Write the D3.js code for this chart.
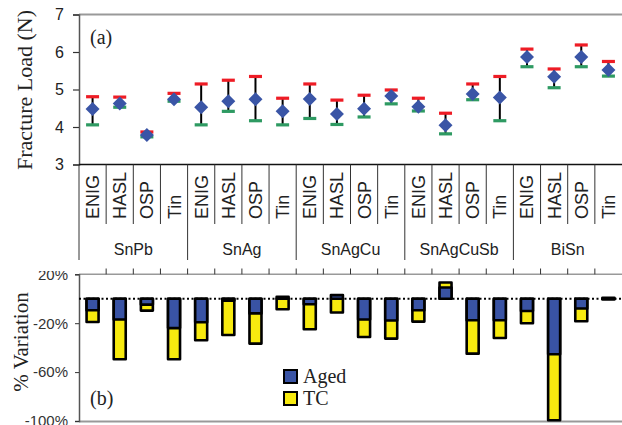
<!DOCTYPE html>
<html>
<head>
<meta charset="utf-8">
<script src="https://cdn.jsdelivr.net/npm/d3@7"></script>
<style>
  html, body { margin: 0; padding: 0; background: #fff; }
  svg { display: block; }
</style>
</head>
<body>
<svg id="chart" width="622" height="425"></svg>
<script>
// ---------- data ----------
const finishes = ["ENIG", "HASL", "OSP", "Tin"];
const solders = ["SnPb", "SnAg", "SnAgCu", "SnAgCuSb", "BiSn"];
const meanLoad = [4.48, 4.63, 3.79, 4.74, 4.53, 4.69, 4.74, 4.42, 4.75, 4.35, 4.49, 4.83, 4.54, 4.05, 4.88, 4.79, 5.87, 5.34, 5.87, 5.52];
const maxLoad  = [4.81, 4.80, 3.87, 4.90, 5.15, 5.25, 5.35, 4.77, 5.15, 4.72, 4.85, 4.99, 4.77, 4.37, 5.15, 5.35, 6.08, 5.55, 6.19, 5.75];
const minLoad  = [4.06, 4.53, 3.74, 4.69, 4.06, 4.42, 4.17, 4.06, 4.23, 4.07, 4.27, 4.62, 4.43, 3.82, 4.73, 4.17, 5.61, 5.05, 5.61, 5.36];
const agedVar  = [-9.4, -17, -4.8, -24, -19.2, -1.5, -12, 1.5, -4.5, 3, -17, -17.8, -9.4, 9.2, -17.6, -17.6, -10, -45.4, -8, 0.8];
const tcVar    = [-19, -49.5, -9.7, -49.5, -34, -29.6, -36.7, -8.6, -25, -11.3, -31.3, -32.6, -18.7, 13.3, -44.9, -32.1, -20, -99.4, -18.4, -0.6];
const loadTicks = [3, 4, 5, 6, 7];
const varTicks = [20, -20, -60, -100];

// ---------- layout ----------
const svg = d3.select("#chart");
const left = 79, right = 622;
const idx = d3.range(solders.length * finishes.length);
const x = d3.scaleBand().domain(idx).range([left, right]).paddingInner(0).paddingOuter(0);
const bw = x.bandwidth();
const cx = i => x(i) + bw / 2;

const yTop = d3.scaleLinear().domain([3, 7]).range([164.5, 14.5]);
const yBot = d3.scaleLinear().domain([-100, 20]).range([421, 274.3]);

const sans = "Arial, 'Liberation Sans', Helvetica, sans-serif";
const serif = "'Times New Roman', 'Liberation Serif', Times, serif";

// ---------- top chart (a) ----------
const gA = svg.append("g");
gA.append("line").attr("x1", left).attr("x2", right).attr("y1", 14.5).attr("y2", 14.5)
  .attr("stroke", "#999").attr("stroke-width", 2);
const axA = gA.append("g").attr("transform", `translate(${left},0)`)
  .call(d3.axisLeft(yTop).tickValues(loadTicks).tickSize(6).tickPadding(9).tickFormat(d3.format("d")));
axA.select(".domain").attr("stroke", "#555").attr("stroke-width", 1.5);
axA.selectAll(".tick line").attr("stroke", "#333").attr("stroke-width", 1.2);
axA.selectAll(".tick text").attr("font-family", sans).attr("font-size", 16).attr("fill", "#222");
gA.append("line").attr("x1", left).attr("x2", right).attr("y1", 164.5).attr("y2", 164.5)
  .attr("stroke", "#111").attr("stroke-width", 1.5);

const eb = gA.append("g").selectAll("g").data(idx).join("g");
eb.append("line")
  .attr("x1", d => cx(d)).attr("x2", d => cx(d))
  .attr("y1", d => yTop(maxLoad[d])).attr("y2", d => yTop(minLoad[d]))
  .attr("stroke", "#000").attr("stroke-width", 2);
eb.append("rect")
  .attr("x", d => cx(d) - 6.5).attr("width", 13)
  .attr("y", d => yTop(maxLoad[d]) - 1.5).attr("height", 3.2)
  .attr("fill", "#ee1c25");
eb.append("rect")
  .attr("x", d => cx(d) - 6.5).attr("width", 13)
  .attr("y", d => yTop(minLoad[d]) - 1.5).attr("height", 3.2)
  .attr("fill", "#2e9a62");
eb.append("path")
  .attr("d", d => {
    const px = cx(d), py = yTop(meanLoad[d]);
    return `M${px},${py - 7}L${px + 7},${py}L${px},${py + 7}L${px - 7},${py}Z`;
  })
  .attr("fill", "#3a55a6");

gA.append("text").attr("x", 90).attr("y", 44).attr("font-family", serif).attr("font-size", 20)
  .attr("fill", "#222").text("(a)");

svg.append("text")
  .attr("transform", `translate(32,90) rotate(-90)`)
  .attr("text-anchor", "middle").attr("font-family", serif).attr("font-size", 22).attr("fill", "#222")
  .text("Fracture Load (N)");

// ---------- category table ----------
const gT = svg.append("g");
idx.forEach(i => {
  const isGroup = i % finishes.length === 0;
  gT.append("line").attr("x1", x(i)).attr("x2", x(i))
    .attr("y1", 164.5).attr("y2", isGroup ? 260 : 224)
    .attr("stroke", "#333").attr("stroke-width", 1);
});
gT.selectAll("text.fin").data(idx).join("text").attr("class", "fin")
  .attr("transform", d => `translate(${cx(d) + 6.5},219) rotate(-90)`)
  .attr("font-family", sans).attr("font-size", 18).attr("fill", "#222")
  .text(d => finishes[d % finishes.length]);
gT.selectAll("text.sol").data(solders).join("text").attr("class", "sol")
  .attr("x", (d, k) => (x(k * 4) + x(k * 4 + 3) + bw) / 2)
  .attr("y", 255).attr("text-anchor", "middle")
  .attr("font-family", sans).attr("font-size", 16).attr("fill", "#222")
  .text(d => d);

// ---------- bottom chart (b) ----------
const gB = svg.append("g");
gB.append("line").attr("x1", left).attr("x2", right).attr("y1", 274.3).attr("y2", 274.3)
  .attr("stroke", "#999").attr("stroke-width", 1.5);
gB.append("line").attr("x1", left).attr("x2", right).attr("y1", 421.5).attr("y2", 421.5)
  .attr("stroke", "#999").attr("stroke-width", 2);
idx.slice(1).forEach(i => {
  gB.append("line").attr("x1", x(i)).attr("x2", x(i)).attr("y1", 274.3).attr("y2", 268.5)
    .attr("stroke", "#333").attr("stroke-width", 1);
});
svg.append("defs").append("clipPath").attr("id", "clipB")
  .append("rect").attr("x", -90).attr("y", 271).attr("width", 100).attr("height", 170);
const axB = gB.append("g").attr("transform", `translate(${left},0)`)
  .attr("clip-path", "url(#clipB)")
  .call(d3.axisLeft(yBot).tickValues(varTicks).tickSize(4).tickPadding(7).tickFormat(d => d + "%"));
axB.select(".domain").attr("stroke", "#555").attr("stroke-width", 1.5);
axB.selectAll(".tick line").attr("stroke", "#333");
axB.selectAll(".tick text").attr("font-family", sans).attr("font-size", 15).attr("fill", "#333");

gB.append("line").attr("x1", left).attr("x2", right).attr("y1", yBot(0)).attr("y2", yBot(0))
  .attr("stroke", "#000").attr("stroke-width", 2).attr("stroke-dasharray", "2,2.5");

const barW = 12;
const barRect = (sel, vals, fill) => sel.selectAll(null).data(idx).join("rect")
  .attr("x", d => cx(d) - barW / 2).attr("width", barW)
  .attr("y", d => Math.min(yBot(0), yBot(vals[d])))
  .attr("height", d => Math.abs(yBot(vals[d]) - yBot(0)))
  .attr("fill", fill).attr("stroke", "#000").attr("stroke-width", 2.6)
  .attr("stroke-linejoin", "round");
barRect(gB.append("g"), tcVar, "#f7ea0f");
barRect(gB.append("g"), agedVar, "#3953a4");

const lg = gB.append("g");
[["Aged", "#3953a4", 370], ["TC", "#f7ea0f", 392]].forEach(([t, c, yy]) => {
  lg.append("rect").attr("x", 284).attr("y", yy).attr("width", 13).attr("height", 13)
    .attr("fill", c).attr("stroke", "#000").attr("stroke-width", 2);
  lg.append("text").attr("x", 303).attr("y", yy + 13).attr("font-family", serif)
    .attr("font-size", 20).attr("fill", "#222").text(t);
});

gB.append("text").attr("x", 90).attr("y", 405).attr("font-family", serif).attr("font-size", 20)
  .attr("fill", "#222").text("(b)");

svg.append("text")
  .attr("transform", `translate(28,342) rotate(-90)`)
  .attr("text-anchor", "middle").attr("font-family", serif).attr("font-size", 21).attr("fill", "#222")
  .text("% Variation");
</script>
</body>
</html>
